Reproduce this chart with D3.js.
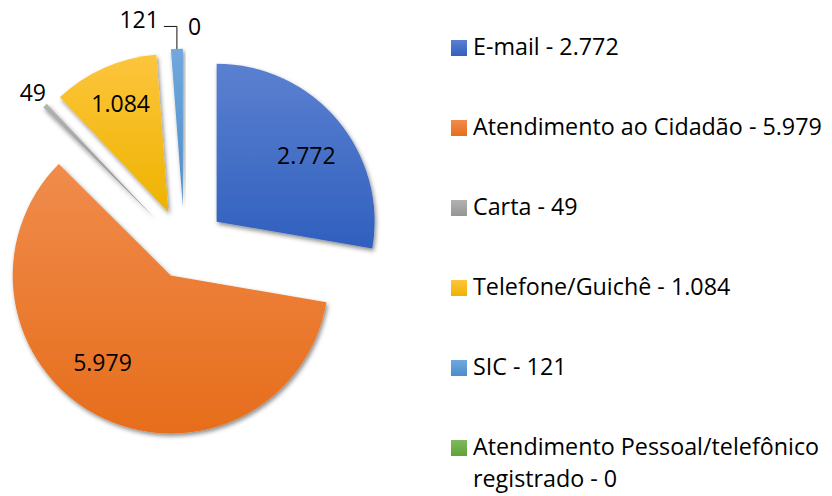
<!DOCTYPE html>
<html>
<head>
<meta charset="utf-8">
<script src="https://cdn.jsdelivr.net/npm/d3@7"></script>
<style>
  html, body { margin: 0; padding: 0; background: #fff; }
  svg { display: block; }
  text { font-family: "Open Sans", "Noto Sans", sans-serif; fill: #000; }
</style>
</head>
<body>
<svg id="chart" width="832" height="496"></svg>
<script>
// ---- data ----
const categories = ["E-mail", "Atendimento ao Cidadão", "Carta", "Telefone/Guichê", "SIC", "Atendimento Pessoal/telefônico registrado"];
const values = [2772, 5979, 49, 1084, 121, 0];
const labelPlacement = ["inside", "inside", "outside", "inside", "leader", "outsideRight"];

// ---- style ----
const colorTop = ["#5b80d0", "#f08c4c", "#b2b2b2", "#fdc53c", "#70a8de", "#7eb95b"];
const colorBottom = ["#3060be", "#e66d1b", "#959595", "#eeb300", "#4b8dcb", "#61a13a"];
const W = 832, H = 496;
const cx = 184.5, cy = 248.8, R = 158;
const explode = [42, 30, 42, 40, 42, 42];
const labelRadius = [0.704, 0.70, 1.11, 0.752, 1, 1];
const labelAngleNudge = [3.9, 10.8, 0, 0.2, 0, 0];   // degrees
const labelFont = 23;

const locale = d3.formatLocale({decimal: ",", thousands: ".", grouping: [3], currency: ["R$", ""]});
const fmt = locale.format(",d");

const svg = d3.select("#chart");
const defs = svg.append("defs");

categories.forEach((c, i) => {
  const g = defs.append("linearGradient").attr("id", "grad" + i)
    .attr("x1", 0).attr("y1", 0).attr("x2", 0).attr("y2", 1);
  g.append("stop").attr("offset", "0%").attr("stop-color", colorTop[i]);
  g.append("stop").attr("offset", "100%").attr("stop-color", colorBottom[i]);
});
const f = defs.append("filter").attr("id", "shadow").attr("x", "-20%").attr("y", "-20%").attr("width", "140%").attr("height", "140%");
f.append("feDropShadow").attr("dx", 1.5).attr("dy", 2.5).attr("stdDeviation", 2).attr("flood-color", "#000").attr("flood-opacity", 0.45);

const data = categories.map((c, i) => ({category: c, value: values[i], i}));
const pie = d3.pie().value(d => d.value).sort(null).startAngle(0).endAngle(2 * Math.PI);
const arcs = pie(data);
const arc = d3.arc().innerRadius(0).outerRadius(R);

function offsetFor(a) {
  const mid = (a.startAngle + a.endAngle) / 2;
  const e = explode[a.index];
  return [cx + e * Math.sin(mid), cy - e * Math.cos(mid)];
}

const g = svg.append("g");
const slices = g.selectAll("g.slice").data(arcs).join("g")
  .attr("class", "slice")
  .attr("transform", d => { const o = offsetFor(d); return `translate(${o[0]},${o[1]})`; });

slices.filter(d => d.value > 0).append("path")
  .attr("d", arc)
  .attr("fill", d => `url(#grad${d.index})`)
  .attr("filter", "url(#shadow)");

// labels
slices.each(function(d) {
  const sel = d3.select(this);
  const mode = labelPlacement[d.index];
  const txt = fmt(d.value);
  const mid = (d.startAngle + d.endAngle) / 2;
  if (mode === "inside" || mode === "outside") {
    const a = mid + labelAngleNudge[d.index] * Math.PI / 180;
    const rr = R * labelRadius[d.index];
    sel.append("text").attr("x", rr * Math.sin(a)).attr("y", -rr * Math.cos(a))
      .attr("text-anchor", "middle").attr("dy", "0.36em")
      .attr("font-size", labelFont).text(txt);
  } else if (mode === "leader") {
    const px = R * Math.sin(mid), py = -R * Math.cos(mid);
    const ty = py - 22.5, tx = px - 13;
    sel.append("path")
      .attr("d", `M${px},${py}V${ty}H${tx}`)
      .attr("fill", "none").attr("stroke", "#111").attr("stroke-width", 1);
    sel.append("text").attr("x", tx - 5).attr("y", ty + 1.6)
      .attr("text-anchor", "end").attr("font-size", labelFont).text(txt);
  } else if (mode === "outsideRight") {
    const px = R * Math.sin(mid), py = -R * Math.cos(mid);
    sel.append("text").attr("x", px + 3.5).attr("y", py - 14)
      .attr("text-anchor", "start").attr("font-size", labelFont).text(txt);
  }
});

// legend
const legX = 451, legTextX = 473, legY0 = 55, legStep = 80, sq = 16, lineH = 32, maxW = 356;
const legend = svg.append("g");
const probe = legend.append("text").attr("font-size", 24).text("Atendimento ao Cidadão - 5.979");
const pw = probe.node().getComputedTextLength();
probe.remove();
const legFont = 24 * 349 / pw;

data.forEach((d, i) => {
  const y = legY0 + i * legStep;
  legend.append("rect").attr("x", legX).attr("y", y - 15).attr("width", sq).attr("height", sq)
    .attr("fill", `url(#grad${i})`);
  const label = d.category + " - " + fmt(d.value);
  const t = legend.append("text").attr("x", legTextX).attr("y", y).attr("font-size", legFont);
  const words = label.split(" ");
  let line = [];
  let ts = t.append("tspan").attr("x", legTextX).attr("dy", 0);
  words.forEach(w => {
    line.push(w);
    ts.text(line.join(" "));
    if (ts.node().getComputedTextLength() > maxW && line.length > 1) {
      line.pop();
      ts.text(line.join(" "));
      line = [w];
      ts = t.append("tspan").attr("x", legTextX).attr("dy", lineH).text(w);
    }
  });
});
</script>
</body>
</html>
